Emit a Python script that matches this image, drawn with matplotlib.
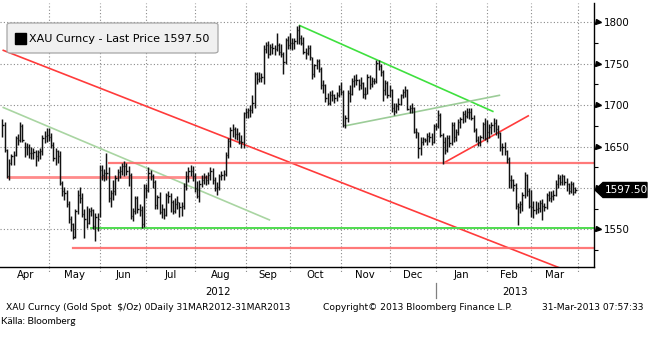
"""
Guld (XAU, spot) april 2012 - mars 2013: dagliga staplar med trendlinjer.
"""
import numpy as np
import pandas as pd
import matplotlib
matplotlib.use("Agg")
import matplotlib.pyplot as plt
from matplotlib.patches import Polygon, FancyBboxPatch

DAGAR = pd.bdate_range("2012-04-02", "2013-03-29")

HOGST = [
    # apr
    1683, 1679, 1647, 1635, 1641, 1645, 1663, 1665, 1679, 1677, 1655, 1654, 1653, 1650, 1648, 1646, 1646, 1648, 1664, 1669, 1672,
    # maj
    1672, 1666, 1656, 1648, 1646, 1644, 1608, 1601, 1597, 1584, 1566, 1558, 1574, 1598, 1601, 1594, 1574, 1578, 1576, 1577, 1575, 1570, 1570,
    # jun
    1628, 1628, 1623, 1642, 1625, 1598, 1610, 1616, 1623, 1626, 1630, 1632, 1630, 1626, 1618, 1576, 1590, 1590, 1580, 1578, 1605,
    # jul
    1605, 1625, 1622, 1617, 1610, 1592, 1595, 1580, 1576, 1594, 1596, 1594, 1585, 1588, 1590, 1583, 1583, 1606, 1620, 1625, 1628, 1626,
    # aug
    1618, 1608, 1610, 1615, 1618, 1616, 1619, 1625, 1624, 1613, 1607, 1617, 1620, 1622, 1643, 1660, 1674, 1677, 1674, 1672, 1668, 1664, 1692,
    # sep
    1697, 1697, 1700, 1712, 1740, 1740, 1740, 1739, 1772, 1776, 1777, 1774, 1775, 1772, 1787, 1775, 1774, 1764, 1781, 1784,
    # okt
    1787, 1781, 1781, 1795, 1797, 1785, 1782, 1769, 1773, 1772, 1758, 1750, 1756, 1756, 1746, 1730, 1726, 1715, 1717, 1718, 1714, 1716, 1724,
    # nov
    1728, 1718, 1688, 1718, 1724, 1733, 1736, 1737, 1732, 1734, 1728, 1722, 1737, 1736, 1734, 1733, 1754, 1754, 1750, 1742, 1730, 1729,
    # dec
    1724, 1720, 1702, 1703, 1708, 1714, 1720, 1723, 1720, 1700, 1703, 1698, 1672, 1668, 1662, 1662, 1660, 1666, 1668, 1666, 1677,
    # jan
    1678, 1694, 1690, 1666, 1662, 1664, 1664, 1680, 1679, 1671, 1683, 1686, 1693, 1694, 1696, 1697, 1696, 1688, 1672, 1663, 1664, 1680, 1684,
    # feb
    1682, 1677, 1680, 1684, 1683, 1676, 1668, 1654, 1655, 1646, 1637, 1615, 1611, 1606, 1582, 1584, 1595, 1619, 1617, 1600,
    # mar
    1597, 1584, 1584, 1583, 1586, 1587, 1582, 1594, 1596, 1596, 1597, 1609, 1617, 1616, 1617, 1616, 1612, 1606, 1608, 1607, 1601,
]

LAGST = [
    1662, 1643, 1612, 1610, 1628, 1628, 1638, 1652, 1655, 1655, 1637, 1640, 1636, 1635, 1635, 1627, 1633, 1635, 1640, 1654, 1655,
    1657, 1648, 1632, 1628, 1630, 1604, 1590, 1585, 1577, 1558, 1548, 1538, 1539, 1568, 1582, 1565, 1540, 1552, 1556, 1566, 1550, 1536, 1548,
    1565, 1610, 1608, 1610, 1583, 1577, 1585, 1592, 1608, 1612, 1615, 1614, 1615, 1602, 1562, 1560, 1568, 1570, 1566, 1552, 1553,
    1588, 1595, 1610, 1600, 1575, 1575, 1568, 1564, 1563, 1566, 1582, 1571, 1568, 1570, 1574, 1565, 1566, 1575, 1598, 1607, 1614, 1608,
    1595, 1588, 1583, 1601, 1605, 1603, 1605, 1610, 1605, 1596, 1592, 1598, 1610, 1610, 1614, 1636, 1650, 1661, 1659, 1658, 1653, 1648, 1648,
    1685, 1685, 1686, 1690, 1696, 1726, 1728, 1728, 1726, 1763, 1757, 1760, 1762, 1760, 1765, 1760, 1758, 1738, 1750, 1768,
    1768, 1766, 1768, 1774, 1774, 1772, 1762, 1756, 1760, 1754, 1732, 1734, 1744, 1740, 1720, 1715, 1704, 1700, 1700, 1705, 1703, 1705, 1710,
    1712, 1673, 1672, 1680, 1704, 1712, 1722, 1724, 1718, 1720, 1708, 1707, 1714, 1720, 1722, 1726, 1727, 1742, 1735, 1705, 1712, 1708,
    1710, 1692, 1688, 1690, 1694, 1700, 1708, 1710, 1694, 1690, 1690, 1666, 1660, 1636, 1640, 1652, 1655, 1652, 1655, 1652, 1654,
    1670, 1672, 1661, 1629, 1641, 1643, 1649, 1652, 1656, 1657, 1664, 1672, 1678, 1680, 1685, 1683, 1682, 1667, 1655, 1651, 1651, 1659, 1658,
    1656, 1660, 1665, 1668, 1664, 1660, 1644, 1640, 1640, 1630, 1600, 1600, 1596, 1574, 1555, 1570, 1572, 1588, 1590, 1576,
    1565, 1564, 1569, 1570, 1571, 1561, 1572, 1575, 1584, 1583, 1585, 1590, 1600, 1603, 1603, 1603, 1596, 1593, 1594, 1592, 1594,
]

STANGNING = [
    1676, 1646, 1614, 1630, 1638, 1640, 1660, 1658, 1675, 1658, 1650, 1650, 1642, 1642, 1643, 1638, 1643, 1645, 1660, 1663, 1664,
    1662, 1652, 1636, 1644, 1638, 1606, 1596, 1594, 1580, 1562, 1556, 1541, 1572, 1592, 1588, 1568, 1562, 1558, 1572, 1573, 1554, 1565, 1562,
    1622, 1616, 1618, 1618, 1588, 1594, 1596, 1612, 1619, 1620, 1627, 1627, 1621, 1616, 1566, 1572, 1588, 1575, 1573, 1556, 1600,
    1597, 1618, 1614, 1607, 1579, 1589, 1571, 1574, 1567, 1591, 1590, 1583, 1572, 1580, 1583, 1577, 1578, 1602, 1614, 1620, 1620, 1614,
    1600, 1590, 1605, 1610, 1613, 1610, 1615, 1620, 1610, 1600, 1601, 1614, 1616, 1617, 1640, 1657, 1670, 1671, 1665, 1665, 1657, 1656, 1690,
    1692, 1694, 1694, 1702, 1738, 1731, 1733, 1734, 1768, 1772, 1762, 1770, 1769, 1768, 1773, 1764, 1762, 1752, 1779, 1772,
    1775, 1775, 1777, 1791, 1781, 1775, 1764, 1763, 1769, 1758, 1737, 1748, 1753, 1744, 1724, 1724, 1709, 1702, 1712, 1712, 1709, 1712, 1719,
    1716, 1676, 1684, 1715, 1714, 1729, 1730, 1730, 1724, 1727, 1713, 1714, 1734, 1726, 1729, 1729, 1751, 1747, 1740, 1718, 1727, 1712,
    1718, 1696, 1693, 1699, 1701, 1712, 1716, 1718, 1695, 1697, 1697, 1668, 1667, 1648, 1656, 1659, 1658, 1663, 1662, 1656, 1675,
    1675, 1688, 1664, 1656, 1646, 1660, 1654, 1676, 1662, 1667, 1680, 1683, 1689, 1687, 1692, 1692, 1685, 1670, 1658, 1656, 1662, 1677, 1660,
    1667, 1673, 1676, 1678, 1671, 1666, 1649, 1649, 1645, 1635, 1609, 1610, 1603, 1578, 1577, 1581, 1592, 1615, 1596, 1578,
    1577, 1573, 1575, 1576, 1582, 1578, 1577, 1591, 1588, 1590, 1592, 1605, 1612, 1607, 1614, 1607, 1605, 1596, 1605, 1595, 1597.5,
]

SENASTE = 1597.50
MANADER = ["Apr", "May", "Jun", "Jul", "Aug", "Sep", "Oct", "Nov", "Dec", "Jan", "Feb", "Mar"]
AR = ["2012", "2013"]
Y_TICKS = [1550, 1600, 1650, 1700, 1750, 1800]

# trendlinjer: (startdatum, startpris, slutdatum, slutpris)
SNEDA_LINJER = [
    ("2012-04-02", 1766.5, "2013-03-29", 1496.0),
    ("2012-04-02", 1697.5, "2012-09-18", 1561.0),
    ("2012-04-04", 1613.0, "2012-08-09", 1613.0),
    ("2012-10-05", 1796.5, "2013-02-06", 1692.0),
    ("2012-11-05", 1675.0, "2013-02-11", 1712.0),
    ("2013-01-04", 1629.5, "2013-02-28", 1687.5),
]
SNEDA_STIL = [
    ("#ff3b3b", 1.2, 1.0),
    ("#a9d5a2", 1.2, 1.0),
    ("#ff7f7f", 2.0, 0.9),
    ("#3fe03f", 1.2, 1.0),
    ("#9ccc98", 1.2, 1.0),
    ("#ff3b3b", 1.2, 1.0),
]
# horisontella nivåer som löper ut till högerkanten: (startdatum, pris)
NIVAER = [("2012-06-07", 1629.5), ("2012-05-16", 1527.5), ("2012-05-28", 1552.0)]
NIVA_STIL = [("#ff6a6a", 1.6, 0.9), ("#ff6a6a", 1.6, 0.9), ("#4fdc4f", 1.4, 1.0)]

assert len(HOGST) == len(LAGST) == len(STANGNING) == len(DAGAR)


def pos(datum):
    return int(DAGAR.searchsorted(pd.Timestamp(datum)))


fig = plt.figure(figsize=(6.55, 3.37), dpi=100)
ax = fig.add_axes([0, 70 / 337, 594 / 655, 264 / 337])
X0, X1 = -1.13, 267.4
ax.set_xlim(X0, X1)
ax.set_ylim(1504.5, 1823.3)

x = np.arange(len(DAGAR))
ax.vlines(x, LAGST, HOGST, color="#111111", lw=1.05, zorder=3)
ax.hlines(STANGNING, x, x + 0.55, color="#111111", lw=1.0, zorder=3)

# månadsgränser
manad = DAGAR.to_period("M")
granser = [0] + [i for i in range(1, len(DAGAR)) if manad[i] != manad[i - 1]] + [len(DAGAR)]
grid = dict(color="#8a8a8a", lw=0.8, linestyle=(0, (1, 2)))
for g in granser[1:]:
    ax.axvline(g, zorder=1, **grid)
    ax.plot([g, g], [0, -5 / 264], transform=ax.get_xaxis_transform(), clip_on=False, **grid)
for y in Y_TICKS:
    ax.axhline(y, zorder=1, **grid)

for (d0, p0, d1, p1), (farg, lw, a) in zip(SNEDA_LINJER, SNEDA_STIL):
    ax.plot([pos(d0), pos(d1)], [p0, p1], color=farg, lw=lw, alpha=a, zorder=2,
            solid_capstyle="butt")
for (d0, p), (farg, lw, a) in zip(NIVAER, NIVA_STIL):
    ax.axhline(p, xmin=(pos(d0) - X0) / (X1 - X0), color=farg, lw=lw, alpha=a, zorder=2)

# axlar
for s in ["left", "top"]:
    ax.spines[s].set_visible(False)
for s in ["bottom", "right"]:
    ax.spines[s].set_linewidth(1.0)
ax.set_xticks([])
ax.yaxis.tick_right()
ax.set_yticks(Y_TICKS)
ax.set_yticklabels(["" if v == 1600 else str(v) for v in Y_TICKS], fontsize=7.4)
ax.set_yticks(np.arange(1525, 1800, 50), minor=True)
ax.tick_params(axis="y", which="major", length=0, pad=7.3)
ax.tick_params(axis="y", which="minor", length=3, width=0.8, direction="out")
ax.plot([1 + 4 / 594] * len(Y_TICKS), Y_TICKS, ">", color="black", ms=3.6,
        transform=ax.get_yaxis_transform(), clip_on=False)

# senaste kurs i svart etikett
h = 7.5 / 0.828
pil = Polygon([(1 + 1 / 594, SENASTE), (1 + 9 / 594, SENASTE + h), (1 + 53 / 594, SENASTE + h),
               (1 + 53 / 594, SENASTE - h), (1 + 9 / 594, SENASTE - h)],
              closed=True, color="black", transform=ax.get_yaxis_transform(),
              clip_on=False, zorder=6)
ax.add_patch(pil)
ax.text(1 + 11 / 594, SENASTE, f"{SENASTE:.2f}", color="white", fontsize=7.6,
        va="center", ha="left", transform=ax.get_yaxis_transform(), zorder=7)

# månads- och årsetiketter
xt = ax.get_xaxis_transform()
for namn, a, b in zip(MANADER, granser[:-1], granser[1:]):
    ax.text((a + b) / 2, -8 / 264, namn, ha="center", va="center", fontsize=7.3, transform=xt)
arsgrans = granser[9]
ax.text((X0 + arsgrans) / 2, -25 / 264, AR[0], ha="center", va="center", fontsize=7.3, transform=xt)
ax.text((arsgrans + X1) / 2, -25 / 264, AR[1], ha="center", va="center", fontsize=7.3, transform=xt)
ax.plot([arsgrans, arsgrans], [-16 / 264, -31 / 264], color="#808080", lw=0.9,
        transform=xt, clip_on=False)

# förklaringsruta
ruta = FancyBboxPatch((7 / 655, 1 - 53 / 337), 211 / 655, 30 / 337,
                      boxstyle="round,pad=0,rounding_size=0.006",
                      transform=fig.transFigure, facecolor="#f0f0f0",
                      edgecolor="#a6a6a6", lw=0.9, zorder=10)
fig.add_artist(ruta)
fig.add_artist(plt.Rectangle((15 / 655, 1 - 44 / 337), 11 / 655, 11 / 337,
                             transform=fig.transFigure, color="black", zorder=11))
fig.text(29 / 655, 1 - 38.5 / 337, f"XAU Curncy - Last Price {SENASTE:.2f}",
         fontsize=8.0, va="center", ha="left", zorder=12)

# sidfot
fig.text(6 / 655, 1 - 307 / 337, "XAU Curncy (Gold Spot  $/Oz) 0Daily 31MAR2012-31MAR2013",
         fontsize=6.6, va="center", ha="left")
fig.text(323 / 655, 1 - 307 / 337, "Copyright\u00a9 2013 Bloomberg Finance L.P.",
         fontsize=6.6, va="center", ha="left")
fig.text(643 / 655, 1 - 307 / 337, "31-Mar-2013 07:57:33",
         fontsize=6.6, va="center", ha="right")
fig.text(1 / 655, 1 - 321 / 337, "Källa: Bloomberg", fontsize=7.2, family="Lato",
         va="center", ha="left")

fig.savefig("out.png", dpi=100)
